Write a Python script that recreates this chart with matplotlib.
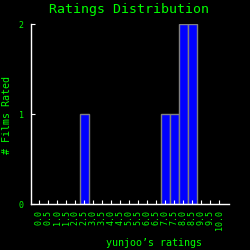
import numpy as np
from matplotlib import pyplot as plt

ratings = [2.5, 7.0, 7.5, 8.0, 8.5]
counts = [1, 1, 1, 2, 2]
tick_values = np.arange(0, 10.01, 0.5)
tick_labels = [f"{v:.1f}" for v in tick_values]
y_ticks = [0, 1, 2]

GREEN = "#00ff00"
plt.rcParams["font.family"] = ["DejaVu Sans Mono"]

fig = plt.figure(figsize=(2.5, 2.5), dpi=100, facecolor="black")
ax = fig.add_axes([0.122, 0.184, 0.793, 0.72], facecolor="black")

ax.bar(ratings, counts, width=0.5, color="#0000ff", edgecolor="#808080", linewidth=1)

ax.set_xlim(-0.49, 10.52)
ax.set_ylim(0, 2)
ax.set_xticks(tick_values)
ax.set_xticklabels(tick_labels, rotation=90)
ax.set_yticks(y_ticks)

for side in ["top", "right"]:
    ax.spines[side].set_visible(False)
for side in ["left", "bottom"]:
    ax.spines[side].set_color("white")
    ax.spines[side].set_linewidth(1)

ax.tick_params(axis="x", direction="in", length=3, color="white", labelcolor=GREEN, labelsize=6, pad=4)
ax.tick_params(axis="y", direction="in", length=3, color="white", labelcolor=GREEN, labelsize=6, pad=5)

fig.text(0.516, 0.964, "Ratings Distribution", color=GREEN, fontsize=9.5, ha="center", va="center")
fig.text(0.616, 0.028, "yunjoo\u2019s ratings", color=GREEN, fontsize=7.2, ha="center", va="center")
fig.text(0.028, 0.54, "# Films Rated", color=GREEN, fontsize=7.2, ha="center", va="center", rotation=90)

fig.savefig("out.png", dpi=100, facecolor="black")
